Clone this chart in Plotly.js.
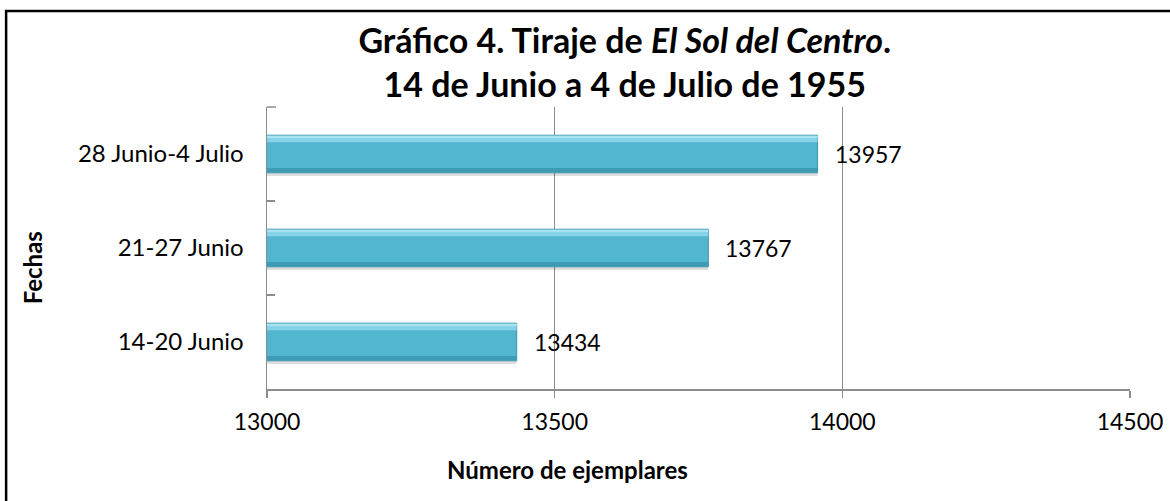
<!DOCTYPE html>
<html>
<head>
<meta charset="utf-8">
<script src="https://cdn.plot.ly/plotly-3.0.1.min.js"></script>
<style>
html,body{margin:0;padding:0;background:#fff;}
#chart{width:1170px;height:501px;}
</style>
</head>
<body>
<div id="chart"></div>
<script>
// Data
const categories = ["14-20 Junio", "21-27 Junio", "28 Junio-4 Julio"];
const ejemplares = [13434, 13767, 13957];
const xTicks = [13000, 13500, 14000, 14500];
const titleLine1 = "Gráfico 4. Tiraje de <i>El Sol del Centro</i>.";
const titleLine2 = "14 de Junio a 4 de Julio de 1955";
const xTitle = "Número de ejemplares";
const yTitle = "Fechas";

const FONT = "Lato, 'Open Sans', sans-serif";

const shadow = {
  type: "bar", orientation: "h", x: ejemplares, y: categories,
  width: 0.4, offset: -0.235,
  marker: {color: "rgba(0,0,0,0.13)", line: {width: 0}},
  hoverinfo: "skip", showlegend: false
};
const main = {
  type: "bar", orientation: "h", x: ejemplares, y: categories,
  width: 0.4, offset: -0.2,
  marker: {color: "#52B6D1", line: {color: "#3C93AB", width: 1}},
  showlegend: false
};
const highlight = {
  type: "bar", orientation: "h", x: ejemplares, y: categories,
  width: 0.07, offset: 0.125,
  marker: {color: "#86D3E8", line: {width: 0}},
  hoverinfo: "skip", showlegend: false
};
const highlight2 = {
  type: "bar", orientation: "h", x: ejemplares, y: categories,
  width: 0.025, offset: 0.17,
  marker: {color: "#A8E3F1", line: {width: 0}},
  hoverinfo: "skip", showlegend: false
};
const darkEdge = {
  type: "bar", orientation: "h", x: ejemplares, y: categories,
  width: 0.045, offset: -0.195,
  marker: {color: "#3E9BB5", line: {width: 0}},
  hoverinfo: "skip", showlegend: false
};

const valueLabels = categories.map((c, i) => ({
  x: ejemplares[i], y: c, xref: "x", yref: "y",
  text: String(ejemplares[i]), showarrow: false,
  xanchor: "left", yanchor: "middle", xshift: 15,
  font: {family: FONT, size: 23, color: "#000"}
}));

const layout = {
  width: 1170, height: 501,
  margin: {l: 267, r: 39.5, t: 107, b: 112, pad: 0},
  paper_bgcolor: "#fff", plot_bgcolor: "#fff",
  barmode: "overlay",
  title: {
    text: titleLine1 + "<br>" + titleLine2,
    font: {family: FONT, size: 34, color: "#000", weight: "bold"},
    xref: "container", x: 0.534, xanchor: "center",
    yref: "container", y: 0.894, yanchor: "middle"
  },
  xaxis: {
    range: [13000, 14500],
    tickvals: xTicks, ticktext: xTicks.map(String),
    showgrid: true, gridcolor: "#8C8C8C", gridwidth: 1,
    zeroline: false,
    showline: true, linecolor: "#8C8C8C", linewidth: 1.5,
    ticks: "outside", ticklen: 7, tickcolor: "#8C8C8C", tickwidth: 1.5,
    ticklabelstandoff: 5,
    tickfont: {family: FONT, size: 23, color: "#000"},
    fixedrange: true
  },
  yaxis: {
    type: "category",
    categoryorder: "array", categoryarray: categories,
    range: [-0.5, 2.5],
    showgrid: false, zeroline: false,
    showline: true, linecolor: "#8C8C8C", linewidth: 1.5,
    ticks: "inside", ticklen: 8, tickcolor: "#8C8C8C", tickwidth: 1.5,
    tickson: "boundaries",
    ticklabelstandoff: 17,
    tickfont: {family: FONT, size: 24, color: "#000"},
    fixedrange: true
  },
  annotations: valueLabels.concat([
    {
      xref: "paper", yref: "paper", x: 0.3486, y: -0.287,
      text: "<b>" + xTitle + "</b>", showarrow: false,
      xanchor: "center", yanchor: "middle",
      font: {family: FONT, size: 24, color: "#000"}
    },
    {
      xref: "paper", yref: "paper", x: -0.272, y: 0.429,
      text: "<b>" + yTitle + "</b>", showarrow: false, textangle: -90,
      xanchor: "center", yanchor: "middle",
      font: {family: FONT, size: 24, color: "#000"}
    }
  ]),
  shapes: [
    {
      type: "rect", xref: "paper", yref: "paper",
      x0: -0.3023, x1: 1.3, y0: -0.6, y1: 1.3404,
      line: {color: "#000", width: 2.5}, fillcolor: "rgba(0,0,0,0)",
      layer: "above"
    },
    {
      type: "line", xref: "paper", yref: "paper",
      x0: 0, x1: 0.0104, y0: 1, y1: 1,
      line: {color: "#8C8C8C", width: 1.5}
    }
  ]
};

Plotly.newPlot("chart", [shadow, main, darkEdge, highlight, highlight2], layout, {displayModeBar: false, staticPlot: true});
</script>
</body>
</html>
